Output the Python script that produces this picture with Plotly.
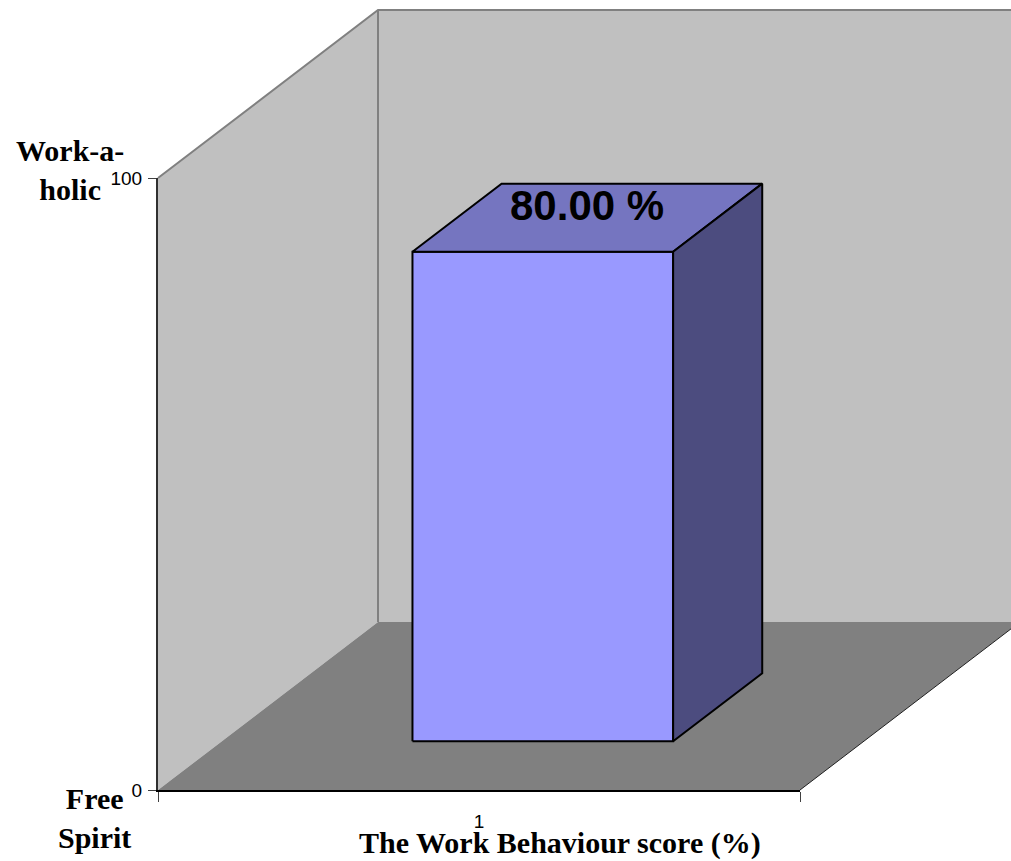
"""Work Behaviour score, drawn as an old-style 3-D column with walls and floor."""
import plotly.graph_objects as go

# --- data -------------------------------------------------------------------
categories = ["1"]
scores = [80.0]
score_labels = ["80.00 %"]
y_ticks = [0, 100]
y_top_label = "Work-a-<br>holic"
y_bottom_label = "Free<br>Spirit"
x_title = "The Work Behaviour score (%)"

# --- geometry of the fake 3-D box ---------------------------------------------
W, H = 1011, 861
PX_PER_X = 642.0          # pixels per category unit on the front plane
PX_PER_Y = 6.12           # pixels per score unit
X_MIN = 0.5 - 158 / PX_PER_X
Y_MIN = -(H - 790) / PX_PER_Y
DX = 220 / PX_PER_X        # depth shift (x units) for z = 1
DY = 168 / PX_PER_Y        # depth shift (y units) for z = 1
BAR_HALF = 0.203
Z0, Z1 = 0.29, 0.695
WALL = "#C0C0C0"
FLOOR = "#808080"
EDGE = "#808080"


def proj(x, y, z):
    return x + z * DX, y + z * DY


def poly(points, fill, line_color=None, width=0):
    xs, ys = zip(*[proj(*p) for p in points])
    xs, ys = list(xs) + [xs[0]], list(ys) + [ys[0]]
    return go.Scatter(
        x=xs, y=ys, mode="lines", fill="toself", fillcolor=fill,
        line=dict(color=line_color or fill, width=width),
        hoverinfo="skip", showlegend=False,
    )


def edge(points, color=EDGE, width=2):
    xs, ys = zip(*[proj(*p) for p in points])
    return go.Scatter(x=list(xs), y=list(ys), mode="lines",
                      line=dict(color=color, width=width),
                      hoverinfo="skip", showlegend=False)


n = len(categories)
x_lo, x_hi = 0.5, n + 0.5
top = y_ticks[-1]

fig = go.Figure()

# back wall, left wall, floor
fig.add_trace(poly([(x_lo, 0, 1), (x_hi, 0, 1), (x_hi, top, 1), (x_lo, top, 1)], WALL))
fig.add_trace(poly([(x_lo, 0, 0), (x_lo, top, 0), (x_lo, top, 1), (x_lo, 0, 1)], WALL))
fig.add_trace(poly([(x_lo, 0, 0), (x_hi, 0, 0), (x_hi, 0, 1), (x_lo, 0, 1)], FLOOR))
fig.add_trace(edge([(x_lo, top, 0), (x_lo, top, 1), (x_hi, top, 1)]))
fig.add_trace(edge([(x_lo, top, 1), (x_lo, 0, 1)]))
fig.add_trace(edge([(x_hi, 0, 0), (x_hi, 0, 1)], color="#202020", width=1))

# columns
for i, v in enumerate(scores):
    c = i + 1
    l, r = c - BAR_HALF, c + BAR_HALF
    fig.add_trace(poly([(l, 0, Z0), (r, 0, Z0), (r, v, Z0), (l, v, Z0)],
                       "#9999FF", "black", 2))
    fig.add_trace(poly([(l, v, Z0), (r, v, Z0), (r, v, Z1), (l, v, Z1)],
                       "#7575C0", "black", 2))
    fig.add_trace(poly([(r, 0, Z0), (r, 0, Z1), (r, v, Z1), (r, v, Z0)],
                       "#4C4C7F", "black", 2))
    lx, ly = proj(c, v, (Z0 + Z1) / 2)
    fig.add_annotation(x=lx, y=ly, xref="x", yref="y", text=f"<b>{score_labels[i]}</b>",
                       showarrow=False, yshift=12,
                       font=dict(family="Liberation Sans", size=42, color="black"))

# invisible trace so the front-plane axes render
fig.add_trace(go.Scatter(x=categories, y=scores, xaxis="x2", yaxis="y2",
                         mode="markers", marker=dict(opacity=0),
                         hoverinfo="skip", showlegend=False))

tick_font = dict(family="Liberation Sans", size=19, color="black")
fig.update_layout(
    width=W, height=H,
    margin=dict(l=0, r=0, t=0, b=0),
    paper_bgcolor="white", plot_bgcolor="rgba(0,0,0,0)",
    xaxis=dict(range=[X_MIN, X_MIN + W / PX_PER_X], visible=False, domain=[0, 1],
               fixedrange=True),
    yaxis=dict(range=[Y_MIN, Y_MIN + H / PX_PER_Y], visible=False, domain=[0, 1],
               fixedrange=True),
    xaxis2=dict(
        type="category", range=[-0.5, n - 0.5], tickson="boundaries",
        domain=[158 / W, 800 / W], anchor="y2", automargin=False,
        showline=True, linecolor="black", linewidth=2,
        ticks="outside", ticklen=10, tickcolor="#404040", tickwidth=1,
        showgrid=False, zeroline=False, tickfont=tick_font, ticklabelstandoff=13,
    ),
    yaxis2=dict(
        range=[0, top], tickvals=y_ticks,
        domain=[(H - 790) / H, (H - 178) / H], anchor="x2", automargin=False,
        showline=True, linecolor="#303030", linewidth=2,
        ticks="outside", ticklen=8, tickcolor="#404040", tickwidth=1,
        showgrid=False, zeroline=False, tickfont=tick_font, ticklabelstandoff=2,
    ),
)

serif = dict(family="Liberation Serif", size=30, color="black")
fig.add_annotation(x=70 / W, y=1 - 170 / H, xref="paper", yref="paper",
                   text=f"<b>{y_top_label}</b>", showarrow=False, font=serif,
                   xanchor="center", yanchor="middle", align="center")
fig.add_annotation(x=94 / W, y=1 - 818 / H, xref="paper", yref="paper",
                   text=f"<b>{y_bottom_label}</b>", showarrow=False, font=serif,
                   xanchor="center", yanchor="middle", align="center")
fig.add_annotation(x=560 / W, y=1 - 843 / H, xref="paper", yref="paper",
                   text=f"<b>{x_title}</b>", showarrow=False, font=serif,
                   xanchor="center", yanchor="middle")

# page body has an 8px default margin; drop it so the figure sits at the corner
fig.write_html("out.html", config={"displayModeBar": False},
               post_script="document.body.style.margin='0';")
